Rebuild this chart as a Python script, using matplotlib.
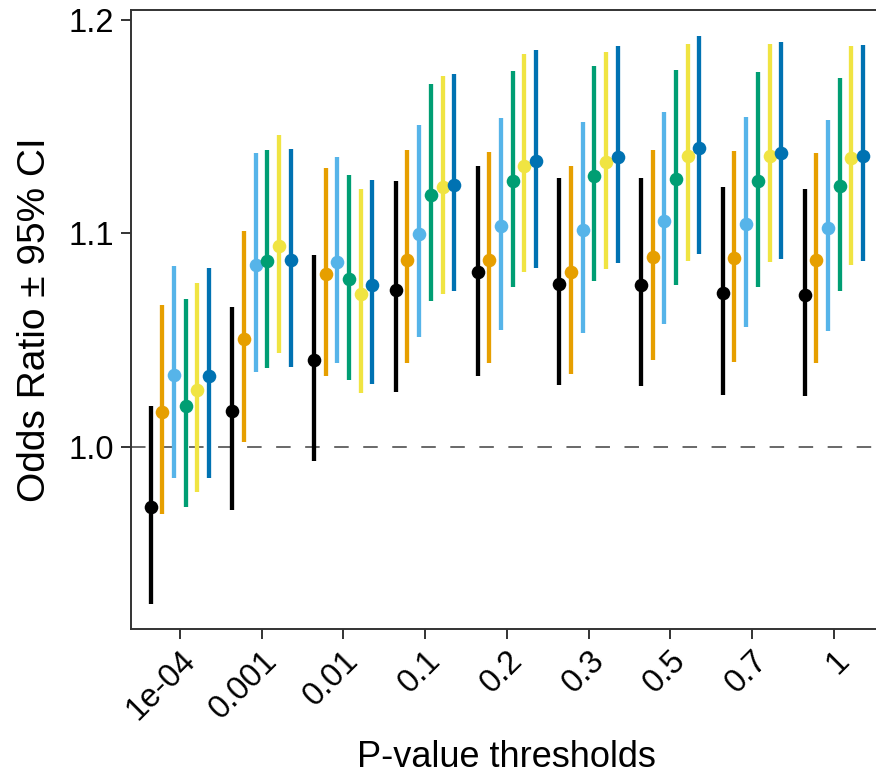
import numpy as np
import matplotlib
matplotlib.use("Agg")
import matplotlib.pyplot as plt

plt.rcParams['font.family'] = ['Liberation Sans', 'DejaVu Sans']

# P-value thresholds on the x axis
thresholds = ['1e-04', '0.001', '0.01', '0.1', '0.2', '0.3', '0.5', '0.7', '1']

# six series, one colour each (odds ratio, lower CI, upper CI)
colors = ['#000000', '#E69F00', '#56B4E9', '#009E73', '#F0E442', '#0072B2']

or_black = [0.9714, 1.0168, 1.0408, 1.0737, 1.0817, 1.0762, 1.0759, 1.0720, 1.0712]
lo_black = [0.9260, 0.9703, 0.9930, 1.0254, 1.0332, 1.0290, 1.0282, 1.0243, 1.0235]
hi_black = [1.0188, 1.0656, 1.0900, 1.1244, 1.1319, 1.1260, 1.1260, 1.1217, 1.1210]

or_orange = [1.0164, 1.0506, 1.0812, 1.0877, 1.0877, 1.0818, 1.0891, 1.0883, 1.0875]
lo_orange = [0.9682, 1.0020, 1.0333, 1.0390, 1.0391, 1.0340, 1.0407, 1.0399, 1.0391]
hi_orange = [1.0665, 1.1013, 1.1305, 1.1390, 1.1382, 1.1318, 1.1393, 1.1388, 1.1377]

or_sky = [1.0337, 1.0853, 1.0866, 1.0999, 1.1033, 1.1017, 1.1060, 1.1044, 1.1028]
lo_sky = [0.9851, 1.0349, 1.0390, 1.0512, 1.0546, 1.0532, 1.0577, 1.0559, 1.0543]
hi_sky = [1.0847, 1.1377, 1.1357, 1.1510, 1.1540, 1.1523, 1.1568, 1.1546, 1.1532]

or_green = [1.0192, 1.0869, 1.0784, 1.1180, 1.1247, 1.1268, 1.1254, 1.1244, 1.1221]
lo_green = [0.9714, 1.0368, 1.0312, 1.0684, 1.0750, 1.0775, 1.0759, 1.0751, 1.0728]
hi_green = [1.0693, 1.1390, 1.1274, 1.1700, 1.1764, 1.1784, 1.1768, 1.1760, 1.1732]

or_yellow = [1.0266, 1.0942, 1.0718, 1.1216, 1.1319, 1.1335, 1.1366, 1.1365, 1.1354]
lo_yellow = [0.9786, 1.0438, 1.0252, 1.0715, 1.0817, 1.0834, 1.0869, 1.0865, 1.0853]
hi_yellow = [1.0767, 1.1463, 1.1211, 1.1739, 1.1842, 1.1854, 1.1889, 1.1889, 1.1878]

or_blue = [1.0333, 1.0877, 1.0760, 1.1229, 1.1338, 1.1357, 1.1400, 1.1380, 1.1366]
lo_blue = [0.9851, 1.0372, 1.0294, 1.0731, 1.0836, 1.0861, 1.0903, 1.0881, 1.0869]
hi_blue = [1.0840, 1.1396, 1.1251, 1.1750, 1.1859, 1.1878, 1.1925, 1.1901, 1.1886]

est = [or_black, or_orange, or_sky, or_green, or_yellow, or_blue]
lower = [lo_black, lo_orange, lo_sky, lo_green, lo_yellow, lo_blue]
upper = [hi_black, hi_orange, hi_sky, hi_green, hi_yellow, hi_blue]

fig = plt.figure(figsize=(8.76, 7.75), dpi=100)
W, H = 876, 775
# panel reaches a bit past the right edge, like the reference crop
ax = fig.add_axes([130.7 / W, (H - 629.3) / H, 752.1 / W, 619.3 / H])

x = np.arange(len(thresholds))
dodge = 0.143
n = len(est)

ax.axhline(1.0, color='#404040', lw=1.1, ls=(0, (9.5, 9.5)), zorder=1)

# lines first, then points (as in a pointrange layer)
for i in range(n):
    xs = x + (i - (n - 1) / 2) * dodge
    ax.vlines(xs, lower[i], upper[i], color=colors[i], lw=3.1, zorder=2)
for i in range(n):
    xs = x + (i - (n - 1) / 2) * dodge
    ax.plot(xs, est[i], 'o', ms=9.8, color=colors[i], mec='none', zorder=3)

ax.set_xlim(-0.6, len(thresholds) - 1 + 0.6)
ax.set_ylim(0.9142, 1.2049)
ax.set_xticks(x)
ax.set_xticklabels(thresholds, rotation=45, ha='right', va='top',
                   rotation_mode='anchor')
ax.set_yticks([1.0, 1.1, 1.2])
ax.set_yticklabels(['1.0', '1.1', '1.2'])

for s in ax.spines.values():
    s.set_color('#333333')
    s.set_linewidth(1.4)
ax.tick_params(axis='both', colors='#333333', width=1.4, length=7,
               labelsize=23.5, labelcolor='black')
ax.tick_params(axis='x', pad=4.5)
ax.tick_params(axis='y', pad=5)

ax.set_xlabel('P-value thresholds', fontsize=26)
ax.set_ylabel('Odds Ratio ± 95% CI', fontsize=28)
ax.xaxis.set_label_coords(0.5, -0.1788)
ax.yaxis.set_label_coords(-0.1033, 0.5)

fig.savefig('out.png', dpi=100)
